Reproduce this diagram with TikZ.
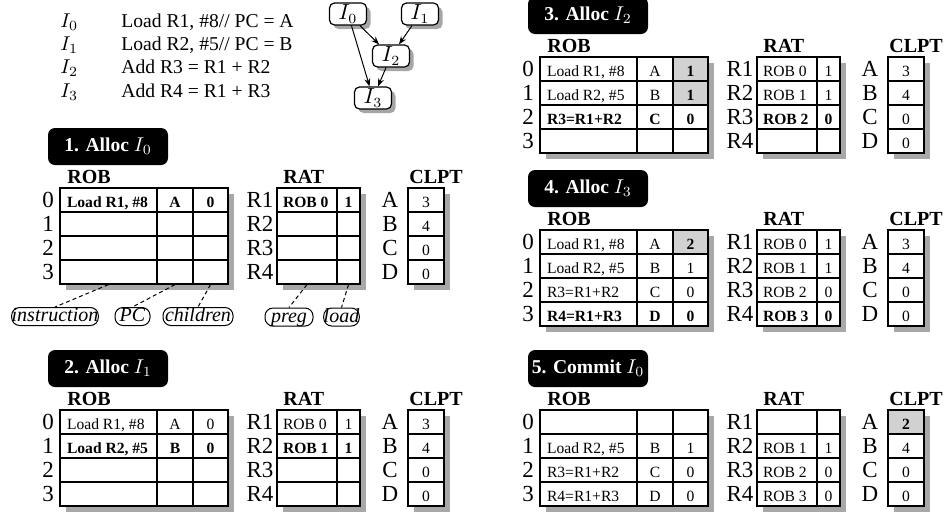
\documentclass[tikz,border=0pt]{standalone}
\usepackage[no-math]{fontspec}
\setmainfont{Liberation Serif}
\usetikzlibrary{shadows,arrows.meta}
\definecolor{rsshade}{gray}{0.82}
\definecolor{rsshadow}{gray}{0.66}
\newcommand\rsCellFont{\fontsize{7.8pt}{9pt}\selectfont}
\newcommand\rsRowFont{\fontsize{11.5pt}{13pt}\selectfont}
\newcommand\rsHdrFont{\fontsize{10pt}{12pt}\selectfont\bfseries}
\tikzset{
  cellbox/.style={draw, line width=0.6pt, fill=white, inner sep=0pt, minimum height=12pt,
    text height=8pt, text depth=1pt, font=\rsCellFont},
  cellL/.style={cellbox},
  cellC/.style={cellbox},
  rowlbl/.style={inner sep=0pt, text height=8pt, text depth=1pt, font=\rsRowFont},
  hdr/.style={inner sep=0pt, anchor=base west, font=\rsHdrFont},
  titlebox/.style={fill=black, text=white, rounded corners=3.5pt, minimum width=60pt,
    minimum height=18.5pt, inner sep=0pt, font=\fontsize{9.8pt}{12pt}\selectfont\bfseries},
  tshadow/.style={fill=rsshadow},
  gnode/.style={draw, line width=0.6pt, fill=white, rounded corners=2.5pt, minimum width=18.5pt,
    minimum height=11pt, inner sep=0pt, font=\fontsize{10.5pt}{12pt}\selectfont,
    drop shadow={shadow xshift=2pt, shadow yshift=-2pt, fill=black, opacity=0.35}},
  garrow/.style={-{Stealth[length=4pt,width=3pt]}, line width=0.5pt},
  lblnode/.style={draw, line width=0.5pt, rounded corners=4pt, inner xsep=0pt, inner ysep=0pt,
    text height=7pt, text depth=2pt, font=\fontsize{10pt}{12pt}\selectfont\itshape},
  dashline/.style={dash pattern=on 2pt off 1.5pt, line width=0.5pt},
  listtxt/.style={inner sep=0pt, anchor=base west, font=\fontsize{9.8pt}{12pt}\selectfont},
}
\newcommand\rsframe[2]{%
  \fill[tshadow] (66,194) rectangle (234,290);
  \fill[tshadow] (283,194) rectangle (366,290);
  \fill[tshadow] (414,194) rectangle (450,290);
  \node[titlebox] (#1title) at (108,146.5) {#2};
  \node[hdr] (#1robh) at (67,183) {ROB};
  \node[hdr] (#1rath) at (283,183) {RAT};
  \node[hdr] (#1clpth) at (409,183) {CLPT};
  \foreach \i/\r/\c in {0/R1/A,1/R2/B,2/R3/C,3/R4/D} {
    \node[rowlbl] (#1n\i) at (48,{200+24*\i}) {\i};
    \node[rowlbl] (#1rr\i) at (260,{200+24*\i}) {\r};
    \node[rowlbl] (#1cl\i) at (390,{200+24*\i}) {\c};
  }
}
\newcommand\rsrob[6]{%
  \node[cellL, minimum width=48.5pt] (#1a#2) at (108.5,{200+24*#2}) {\makebox[41.5pt][l]{#3}};
  \node[cellC, minimum width=18pt] (#1b#2) at (175,{200+24*#2}) {#4};
  \node[cellC, minimum width=17.5pt, #6] (#1c#2) at (210.5,{200+24*#2}) {#5};
}
\newcommand\rsrat[4]{%
  \node[cellL, minimum width=30pt] (#1p#2) at (307,{200+24*#2}) {\makebox[24pt][l]{#3}};
  \node[cellC, minimum width=11.5pt] (#1q#2) at (348.5,{200+24*#2}) {#4};
}
\newcommand\rsclpt[4]{%
  \node[cellC, minimum width=18pt, #4] (#1k#2) at (426,{200+24*#2}) {#3};
}
\begin{document}
\begin{tikzpicture}[x=0.5pt, y=-0.5pt]
\useasboundingbox (0,0) rectangle (945,514);
% listing
\node[listtxt] (li0) at (60,27) {$I_0$};
\node[listtxt] (lt0) at (121,27) {Load R1, \#8// PC = A};
\node[listtxt] (li1) at (60,50) {$I_1$};
\node[listtxt] (lt1) at (121,50) {Load R2, \#5// PC = B};
\node[listtxt] (li2) at (60,73) {$I_2$};
\node[listtxt] (lt2) at (121,73) {Add R3 = R1 + R2};
\node[listtxt] (li3) at (60,97) {$I_3$};
\node[listtxt] (lt3) at (121,97) {Add R4 = R1 + R3};
% dependence graph
\node[gnode] (g0) at (348,14) {$I_0$};
\node[gnode] (g1) at (420,14) {$I_1$};
\node[gnode] (g2) at (391,56) {$I_2$};
\node[gnode] (g3) at (373,98) {$I_3$};
\draw[garrow] (g0) -- (g2);
\draw[garrow] (g1) -- (g2);
\draw[garrow] (g0) -- (g3);
\draw[garrow] (g2) -- (g3);
% panel 1
\begin{scope}
\rsframe{p1}{1. Alloc $I_0$}
\rsrob{p1}{0}{\textbf{Load R1, \#8}}{\textbf{A}}{\textbf{0}}{}
\rsrob{p1}{1}{}{}{}{}
\rsrob{p1}{2}{}{}{}{}
\rsrob{p1}{3}{}{}{}{}
\rsrat{p1}{0}{\textbf{ROB 0}}{\textbf{1}}
\rsrat{p1}{1}{}{}
\rsrat{p1}{2}{}{}
\rsrat{p1}{3}{}{}
\rsclpt{p1}{0}{3}{}
\rsclpt{p1}{1}{4}{}
\rsclpt{p1}{2}{0}{}
\rsclpt{p1}{3}{0}{}
\node[lblnode, minimum width=42pt] (linstr) at (55,316.5) {instruction};
\node[lblnode, minimum width=17.5pt] (lpc) at (132.5,316.5) {PC};
\node[lblnode, minimum width=35pt] (lchild) at (198,316.5) {children};
\node[lblnode, minimum width=24pt] (lpreg) at (289,317) {preg};
\node[lblnode, minimum width=16.5pt] (lload) at (341.5,317) {load};
\draw[dashline] (p1a3.south) -- (linstr.north);
\draw[dashline] (p1b3.south) -- (lpc.north);
\draw[dashline] (p1c3.south) -- (lchild.north);
\draw[dashline] (p1p3.south) -- (lpreg.north);
\draw[dashline] (p1q3.south) -- (lload.north);
\end{scope}
% panel 2
\begin{scope}[shift={(0,222)}]
\rsframe{p2}{2. Alloc $I_1$}
\rsrob{p2}{0}{Load R1, \#8}{A}{0}{}
\rsrob{p2}{1}{\textbf{Load R2, \#5}}{\textbf{B}}{\textbf{0}}{}
\rsrob{p2}{2}{}{}{}{}
\rsrob{p2}{3}{}{}{}{}
\rsrat{p2}{0}{ROB 0}{1}
\rsrat{p2}{1}{\textbf{ROB 1}}{\textbf{1}}
\rsrat{p2}{2}{}{}
\rsrat{p2}{3}{}{}
\rsclpt{p2}{0}{3}{}
\rsclpt{p2}{1}{4}{}
\rsclpt{p2}{2}{0}{}
\rsclpt{p2}{3}{0}{}
\end{scope}
% panel 3
\begin{scope}[shift={(480,-131)}]
\rsframe{p3}{3. Alloc $I_2$}
\rsrob{p3}{0}{Load R1, \#8}{A}{\textbf{1}}{fill=rsshade}
\rsrob{p3}{1}{Load R2, \#5}{B}{\textbf{1}}{fill=rsshade}
\rsrob{p3}{2}{\textbf{R3=R1+R2}}{\textbf{C}}{\textbf{0}}{}
\rsrob{p3}{3}{}{}{}{}
\rsrat{p3}{0}{ROB 0}{1}
\rsrat{p3}{1}{ROB 1}{1}
\rsrat{p3}{2}{\textbf{ROB 2}}{\textbf{0}}
\rsrat{p3}{3}{}{}
\rsclpt{p3}{0}{3}{}
\rsclpt{p3}{1}{4}{}
\rsclpt{p3}{2}{0}{}
\rsclpt{p3}{3}{0}{}
\end{scope}
% panel 4
\begin{scope}[shift={(480,42)}]
\rsframe{p4}{4. Alloc $I_3$}
\rsrob{p4}{0}{Load R1, \#8}{A}{\textbf{2}}{fill=rsshade}
\rsrob{p4}{1}{Load R2, \#5}{B}{1}{}
\rsrob{p4}{2}{R3=R1+R2}{C}{0}{}
\rsrob{p4}{3}{\textbf{R4=R1+R3}}{\textbf{D}}{\textbf{0}}{}
\rsrat{p4}{0}{ROB 0}{1}
\rsrat{p4}{1}{ROB 1}{1}
\rsrat{p4}{2}{ROB 2}{0}
\rsrat{p4}{3}{\textbf{ROB 3}}{\textbf{0}}
\rsclpt{p4}{0}{3}{}
\rsclpt{p4}{1}{4}{}
\rsclpt{p4}{2}{0}{}
\rsclpt{p4}{3}{0}{}
\end{scope}
% panel 5
\begin{scope}[shift={(480,222)}]
\rsframe{p5}{5. Commit $I_0$}
\rsrob{p5}{0}{}{}{}{}
\rsrob{p5}{1}{Load R2, \#5}{B}{1}{}
\rsrob{p5}{2}{R3=R1+R2}{C}{0}{}
\rsrob{p5}{3}{R4=R1+R3}{D}{0}{}
\rsrat{p5}{0}{}{}
\rsrat{p5}{1}{ROB 1}{1}
\rsrat{p5}{2}{ROB 2}{0}
\rsrat{p5}{3}{ROB 3}{0}
\rsclpt{p5}{0}{\textbf{2}}{fill=rsshade}
\rsclpt{p5}{1}{4}{}
\rsclpt{p5}{2}{0}{}
\rsclpt{p5}{3}{0}{}
\end{scope}
\end{tikzpicture}
\end{document}
